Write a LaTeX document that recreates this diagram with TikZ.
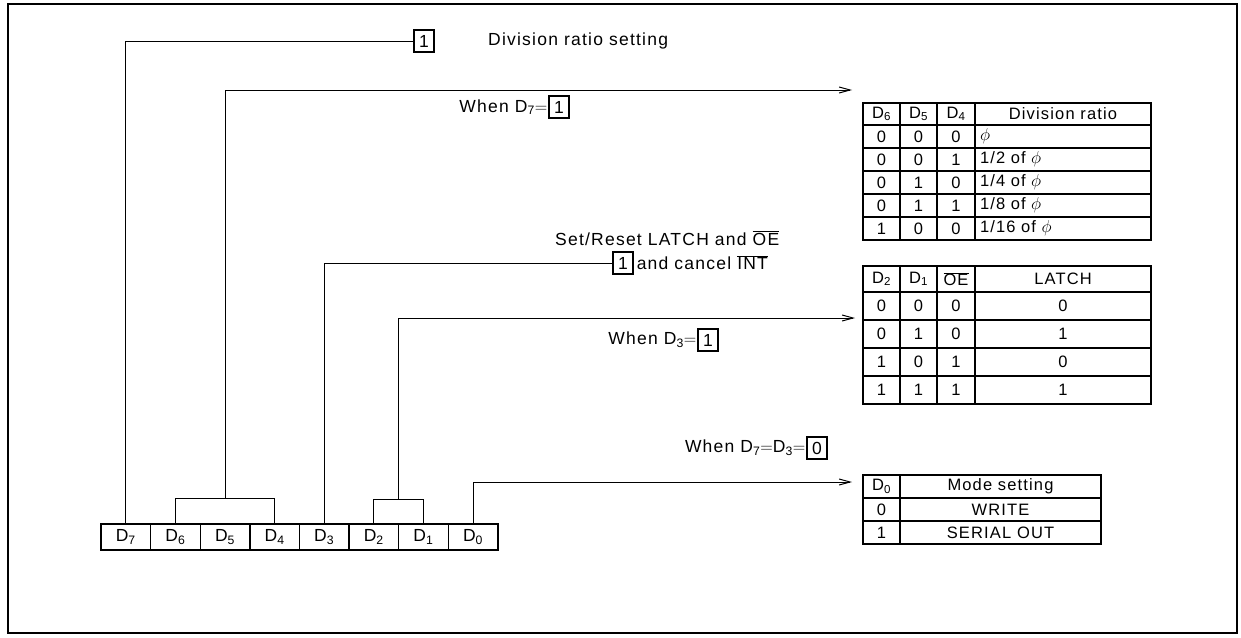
\documentclass[tikz,border=0pt]{standalone}
\usepackage{fontspec}
\setmainfont{Liberation Sans}[LetterSpace=7]
\usetikzlibrary{arrows.meta,positioning,calc}
\newcommand\negsig[1]{$\overline{\mbox{#1}}$}
\newcommand\lblfont{\fontsize{17.5}{20}\selectfont}
\newcommand\tabfont{\fontsize{16.5}{19}\selectfont}
\newcommand\phis{{\fontsize{19}{19}\selectfont$\phi$}}
\newcommand\eqs{$=$}

\begin{document}
\begin{tikzpicture}[x=1pt, y=-1pt,
    lbl/.style={font=\lblfont, inner sep=0pt},
    bitbox/.style={draw, line width=1.1pt, minimum width=20pt, minimum height=22pt, inner sep=0pt, font=\lblfont},
    cell/.style={draw, line width=1.4pt, minimum width=49.6pt, minimum height=26pt, inner sep=0pt, font=\lblfont},
    tcell/.style={draw, line width=1.2pt, inner sep=0pt, minimum height=23pt, font=\tabfont},
    wire/.style={line width=1pt},
    arr/.style={wire, -{Straight Barb[length=11pt,width=6pt]}}
  ]
    \useasboundingbox (0,0) rectangle (1241,637);
    \draw[line width=2pt] (8,4) rectangle (1237,633);

    % register bits
    \foreach \b [count=\k from 0] in {7,6,5,4,3,2,1,0}
      \node[cell] (d\b) at (125.8+49.6*\k,537) {D\textsubscript{\b}};

    % labels
    \node[bitbox] (k7) at (424,41) {1};
    \node[lbl, anchor=west] (divset) at (488,41) {Division ratio setting};
    \node[bitbox] (w7v) at (559,107) {1};
    \node[lbl, anchor=east] (w7) at ([xshift=-1pt]w7v.west) {When D\textsubscript{7}\eqs};
    \node[lbl, anchor=west] (setres) at (555,238) {Set/Reset LATCH and \negsig{OE}};
    \node[bitbox] (k3) at (623,263) {1};
    \node[lbl, anchor=west] (cancel) at ([xshift=3pt]k3.east) {and cancel \negsig{INT}};
    \node[bitbox] (w3v) at (708,340) {1};
    \node[lbl, anchor=east] (w3) at ([xshift=-1pt]w3v.west) {When D\textsubscript{3}\eqs};
    \node[bitbox] (w0v) at (817,448) {0};
    \node[lbl, anchor=east] (w0) at ([xshift=-1pt]w0v.west) {When D\textsubscript{7}\eqs D\textsubscript{3}\eqs};

    % arrow ends
    \coordinate (a64) at (852,90);
    \coordinate (a21) at (855,318);
    \coordinate (a0) at (852,482);
    \coordinate (s64) at ($(d6.north)!0.5!(d4.north)+(0,-25)$);
    \coordinate (s21) at ($(d2.north)!0.5!(d1.north)+(0,-24)$);

    % connectors
    \draw[wire] (d7.north) |- (k7.west);
    \draw[wire] (d6.north) -- ++(0,-25) -| (d4.north);
    \draw[arr] (s64) |- (a64);
    \draw[wire] (d3.north) |- (k3.west);
    \draw[wire] (d2.north) -- ++(0,-24) -| (d1.north);
    \draw[arr] (s21) |- (a21);
    \draw[arr] (d0.north) |- (a0);

    % division ratio table
    \node[tcell, minimum width=37pt, minimum height=22pt] (dr-0-1) at (881.5,114) {D\textsubscript{6}};
    \node[tcell, minimum width=37pt, minimum height=22pt] (dr-0-2) at (918.5,114) {D\textsubscript{5}};
    \node[tcell, minimum width=38pt, minimum height=22pt] (dr-0-3) at (956,114) {D\textsubscript{4}};
    \node[tcell, minimum width=176pt, minimum height=22pt] (dr-0-4) at (1063,114) {Division ratio};
    \foreach \a/\b/\c/\d [count=\r] in {0/0/0/{\phis}, 0/0/1/{1/2 of \phis}, 0/1/0/{1/4 of \phis}, 0/1/1/{1/8 of \phis}, 1/0/0/{1/16 of \phis}} {
      \node[tcell, minimum width=37pt] (dr-\r-1) at (881.5,113.5+23*\r) {\a};
      \node[tcell, minimum width=37pt] (dr-\r-2) at (918.5,113.5+23*\r) {\b};
      \node[tcell, minimum width=38pt] (dr-\r-3) at (956,113.5+23*\r) {\c};
      \node[tcell, text width=166pt, inner xsep=5pt, align=left] (dr-\r-4) at (1063,113.5+23*\r) {\d};
    }

    % latch table
    \node[tcell, minimum width=37pt, minimum height=26pt] (lt-0-1) at (881.5,279) {D\textsubscript{2}};
    \node[tcell, minimum width=37pt, minimum height=26pt] (lt-0-2) at (918.5,279) {D\textsubscript{1}};
    \node[tcell, minimum width=38pt, minimum height=26pt] (lt-0-3) at (956,279) {\negsig{OE}};
    \node[tcell, minimum width=176pt, minimum height=26pt] (lt-0-4) at (1063,279) {LATCH};
    \foreach \a/\b/\c/\d [count=\r] in {0/0/0/0, 0/1/0/1, 1/0/1/0, 1/1/1/1} {
      \node[tcell, minimum width=37pt, minimum height=28pt] (lt-\r-1) at (881.5,278+28*\r) {\a};
      \node[tcell, minimum width=37pt, minimum height=28pt] (lt-\r-2) at (918.5,278+28*\r) {\b};
      \node[tcell, minimum width=38pt, minimum height=28pt] (lt-\r-3) at (956,278+28*\r) {\c};
      \node[tcell, minimum width=176pt, minimum height=28pt] (lt-\r-4) at (1063,278+28*\r) {\d};
    }

    % mode table
    \foreach \a/\b [count=\r from 0] in {D\textsubscript{0}/Mode setting, 0/WRITE, 1/SERIAL OUT} {
      \node[tcell, minimum width=37pt] (md-\r-1) at (881.5,486.5+23*\r) {\a};
      \node[tcell, minimum width=201pt] (md-\r-2) at (1000.5,486.5+23*\r) {\b};
    }
  \end{tikzpicture}
\end{document}
